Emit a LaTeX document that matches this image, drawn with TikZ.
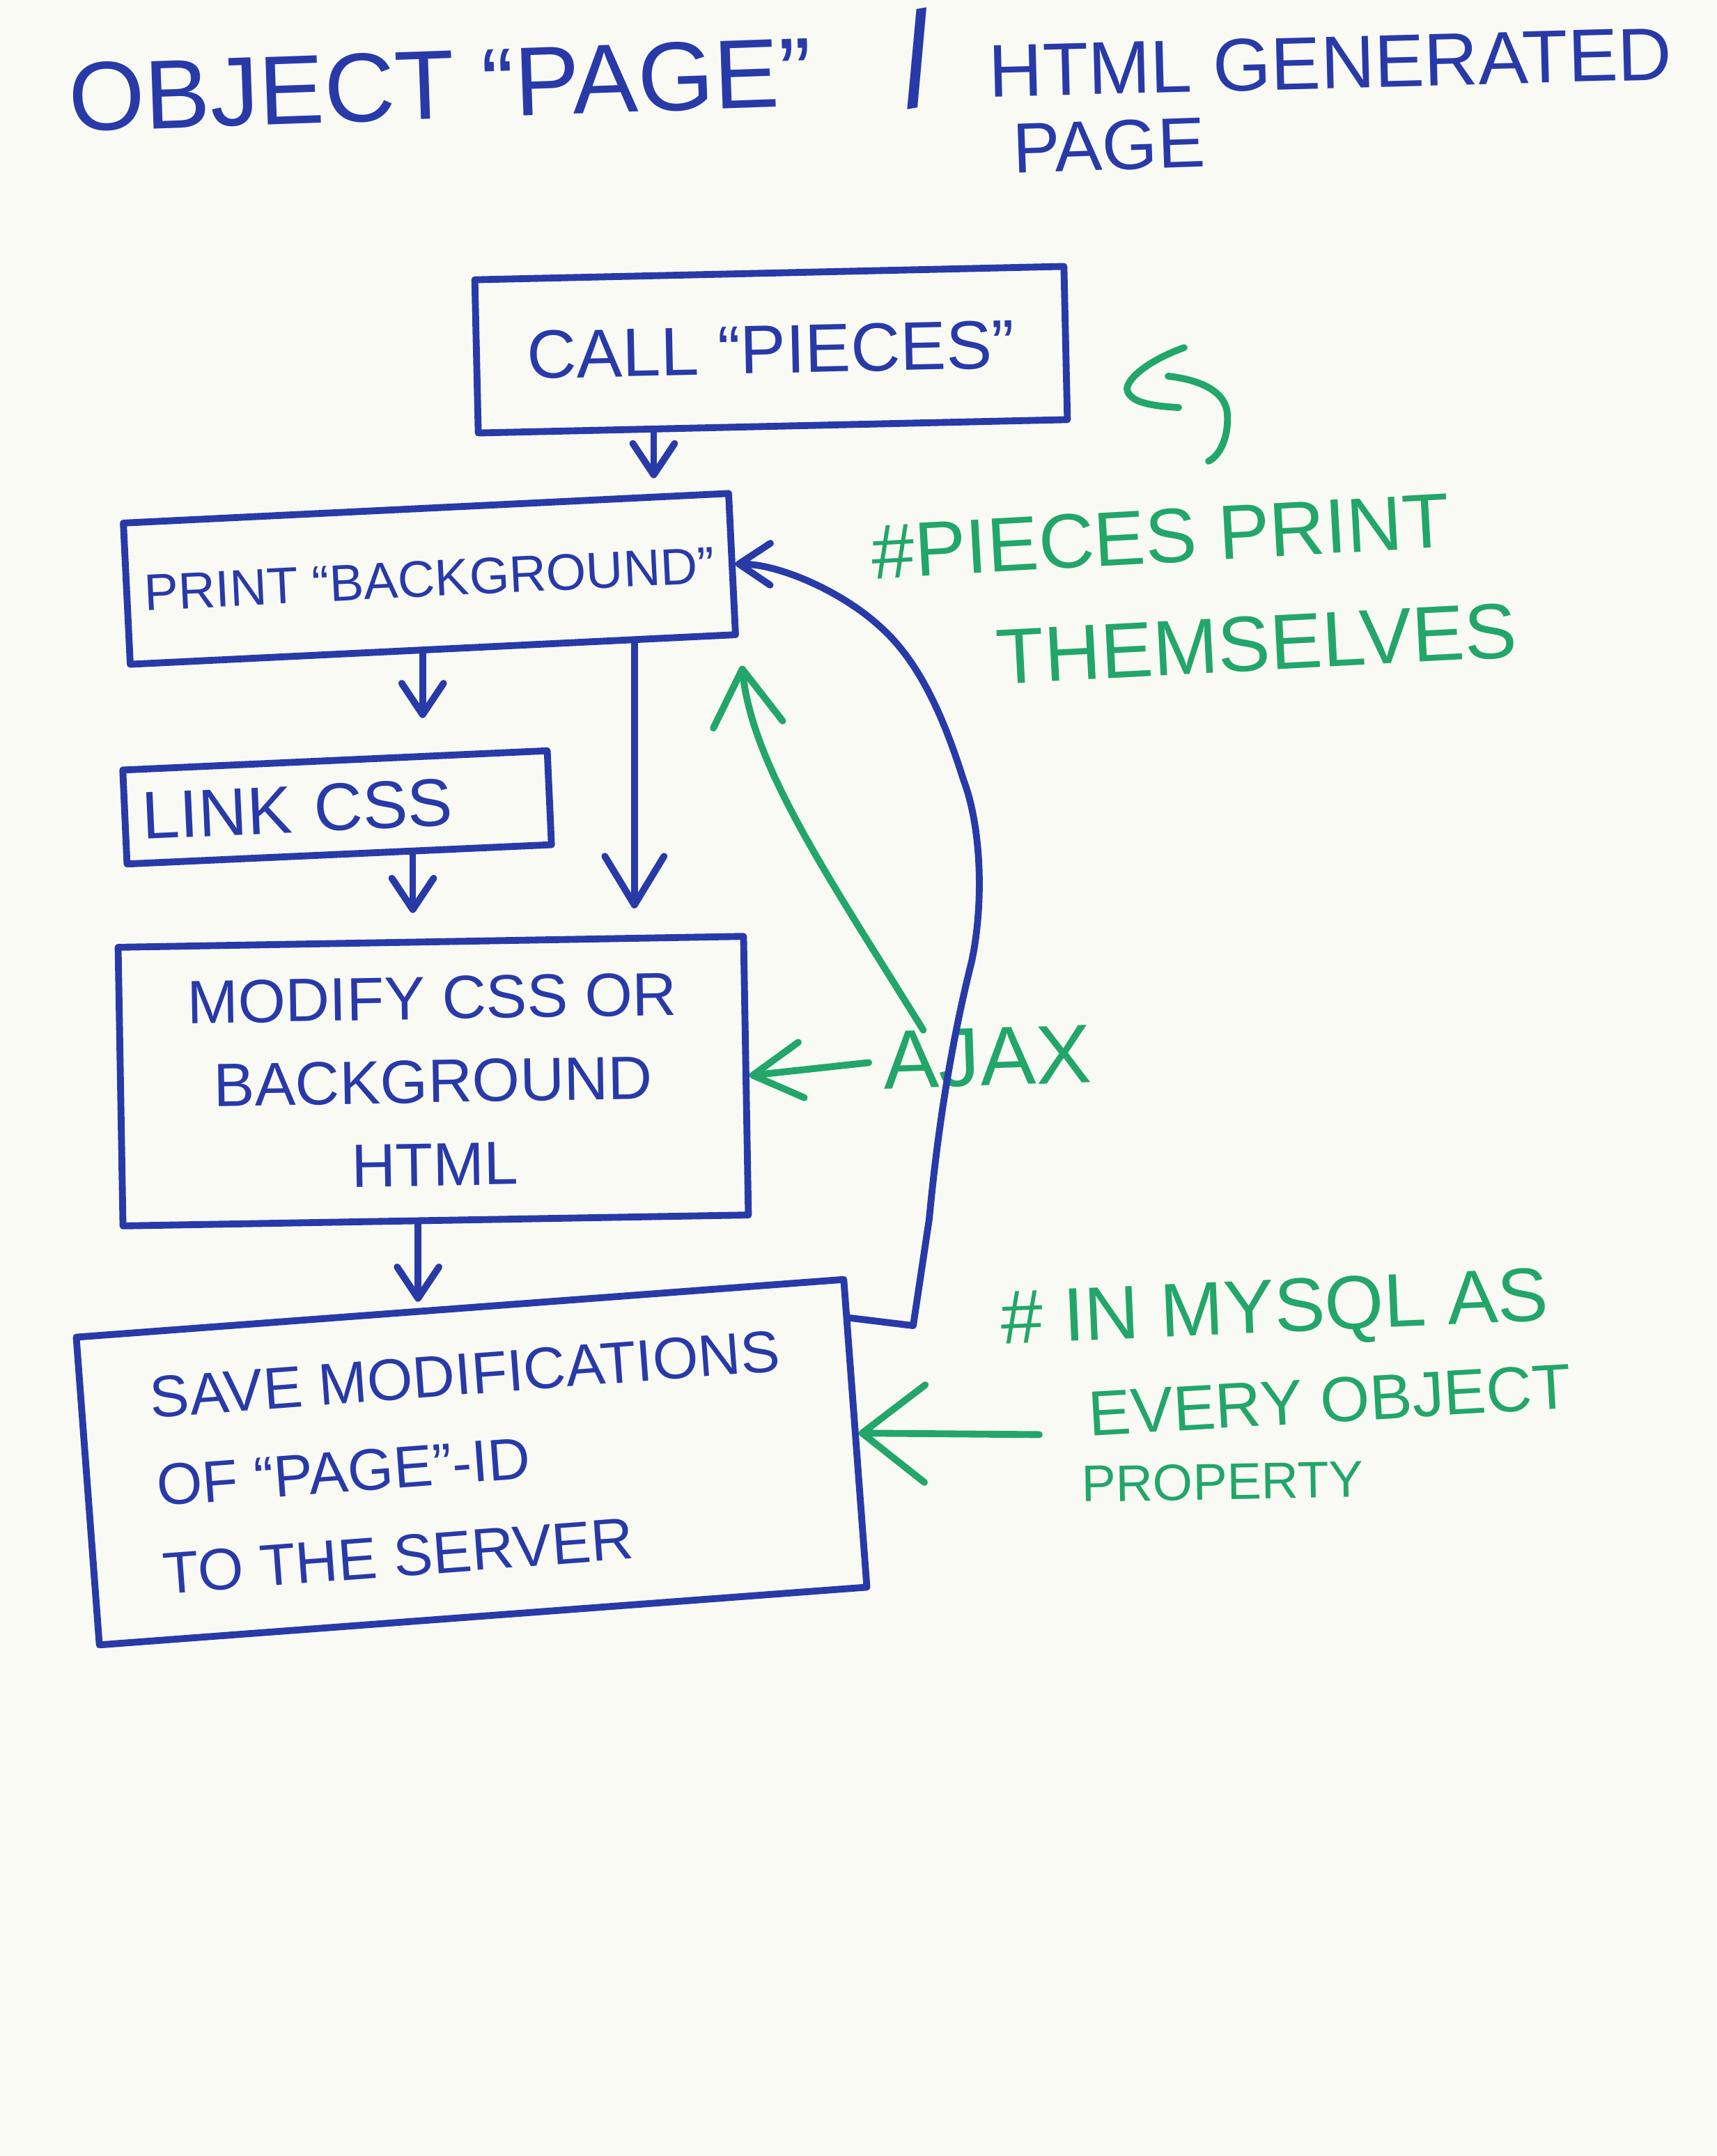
\documentclass[tikz,border=0pt]{standalone}
\usepackage{fontspec}
\setmainfont{Liberation Sans}
\usetikzlibrary{arrows.meta,calc}
\definecolor{mblue}{RGB}{40,58,168}
\definecolor{mgreen}{RGB}{34,166,106}
\definecolor{paper}{RGB}{250,250,244}
\tikzset{
  bbox/.style={draw=mblue, line width=2.8pt, line join=round, inner sep=0pt, text=mblue},
  btxt/.style={text=mblue, inner sep=1pt},
  gtxt/.style={text=mgreen, inner sep=0pt},
  bline/.style={draw=mblue, line width=2.8pt, line cap=round, line join=round},
  gline/.style={draw=mgreen, line width=2.8pt, line cap=round, line join=round},
  btipS/.style={-{Straight Barb[length=4.5mm,width=6mm,round]}},
  btipL/.style={-{Straight Barb[length=7mm,width=8.5mm,round]}},
  gtipM/.style={-{Straight Barb[length=7mm,width=8mm,round]}},
  gtipL/.style={-{Straight Barb[length=9mm,width=14mm,round]}},
  gtipU/.style={-{Straight Barb[length=8mm,width=10mm,round]}}
}
\begin{document}
\begin{tikzpicture}
\fill[paper] (0,0) rectangle (24.64,-30.95);
\useasboundingbox (0,0) rectangle (24.64,-30.95);

% title
\node[btxt, rotate=2, font=\fontsize{40}{48}\selectfont] (title1) at (6.32,-1.22) {OBJECT “PAGE”};
\node[btxt, rotate=10, font=\fontsize{54}{60}\selectfont] (slash) at (13.17,-0.84) {/};
\node[btxt, rotate=1.5, font=\fontsize{30.5}{36}\selectfont] (title2) at (19.10,-0.90) {HTML GENERATED};
\node[btxt, rotate=2, font=\fontsize{29}{35}\selectfont] (title3) at (15.92,-2.09) {PAGE};

% boxes
\node[bbox, rotate=1.3, minimum width=8.46cm, minimum height=2.2cm, font=\fontsize{28}{34}\selectfont] (call) at (11.07,-5.02) {CALL “PIECES”};
\node[bbox, rotate=2.8, minimum width=8.7cm, minimum height=2.03cm, font=\fontsize{21}{25}\selectfont] (print) at (6.165,-8.31) {PRINT “BACKGROUND”};
\node[bbox, rotate=2.6, minimum width=6.1cm, minimum height=1.35cm, text width=5.6cm, inner xsep=0.25cm, align=left, font=\fontsize{27.5}{33}\selectfont] (link) at (4.84,-11.59) {LINK CSS};
\node[bbox, rotate=1, minimum width=8.98cm, minimum height=4.0cm, align=center, font=\fontsize{25}{34}\selectfont] (modify) at (6.22,-15.52) {MODIFY CSS OR\\BACKGROUND\\HTML};
\node[bbox, rotate=4.3, minimum width=11.05cm, minimum height=4.43cm, align=left, font=\fontsize{24}{36}\selectfont] (save) at (6.77,-20.99) {SAVE MODIFICATIONS\\OF “PAGE”-ID\\TO THE SERVER};

% green notes
\node[gtxt, rotate=3.2, font=\fontsize{31.5}{38}\selectfont] (pieces1) at (16.66,-7.70) {\#PIECES PRINT};
\node[gtxt, rotate=3, font=\fontsize{32}{38}\selectfont] (pieces2) at (18.04,-9.24) {THEMSELVES};
\node[gtxt, rotate=2, font=\fontsize{34}{40}\selectfont] (ajax) at (14.17,-15.18) {AJAX};
\node[gtxt, rotate=2.5, font=\fontsize{31}{37}\selectfont] (mysql1) at (18.30,-18.85) {\# IN MYSQL AS};
\node[gtxt, rotate=3.3, font=\fontsize{26}{31}\selectfont] (mysql2) at (19.09,-20.10) {EVERY OBJECT};
\node[gtxt, rotate=1, font=\fontsize{21}{25}\selectfont] (mysql3) at (17.55,-21.27) {PROPERTY};

% blue flow connectors
\coordinate (c1s) at ($(call.south west)!0.3!(call.south east)$);
\coordinate (c1e) at ($(print.north west)!0.876!(print.north east)$);
\draw[bline, btipS, shorten >=0.22cm] (c1s) -- (c1s |- c1e);

\coordinate (c2s) at ($(print.south west)!0.483!(print.south east)$);
\coordinate (c2e) at ($(link.north west)!0.707!(link.north east)$);
\draw[bline, btipS, shorten >=0.5cm] (c2s) -- (c2s |- c2e);

\coordinate (c3s) at ($(link.south west)!0.67!(link.south east)$);
\coordinate (c3e) at ($(modify.north west)!0.469!(modify.north east)$);
\draw[bline, btipS, shorten >=0.37cm] (c3s) -- (c3s |- c3e);

\coordinate (c4s) at ($(print.south west)!0.829!(print.south east)$);
\coordinate (c4e) at ($(modify.north west)!0.819!(modify.north east)$);
\draw[bline, btipL, shorten >=0.38cm] (c4s) -- (c4s |- c4e);

\coordinate (c5s) at ($(modify.south west)!0.472!(modify.south east)$);
\coordinate (c5e) at ($(save.north west)!0.435!(save.north east)$);
\draw[bline, btipS, shorten >=0.1cm] (c5s) -- (c5s |- c5e);

% feedback loop from save back to print
\coordinate (ls) at ($(save.north east)!0.134!(save.south east)$);
\draw[bline, btipS] (ls) -- (13.11,-19.03) -- (13.34,-17.5)
  .. controls (13.5,-15.8) and (13.75,-14.6) .. (13.95,-13.8)
  .. controls (14.12,-13.0) and (14.1,-11.9) .. (13.83,-11.19)
  .. controls (13.55,-10.3) and (13.2,-9.5) .. (12.64,-9.0)
  .. controls (12.1,-8.5) and (11.2,-8.1) .. (print.east);

% green arrows
\coordinate (ajs) at ($(ajax.north west)!0.2!(ajax.north east)$);
\draw[gline, gtipU, shorten >=0.4cm] (ajs) .. controls (11.9,-12.6) and (10.8,-11.0) .. (print.south east);
\draw[gline, gtipM, shorten <=0.2cm] (ajax.west) -- (modify.east);
\draw[gline, gtipL, shorten <=0.7cm] ([yshift=-0.3cm]mysql2.west) -- (save.east);

% green curved hook near CALL box
\draw[gline] (16.77,-5.40) .. controls (17.2,-5.45) and (17.6,-5.6) .. (17.62,-5.95)
  .. controls (17.64,-6.3) and (17.5,-6.55) .. (17.35,-6.62);
\draw[gline] (17.00,-4.99) .. controls (16.55,-5.15) and (16.2,-5.4) .. (16.18,-5.58)
  .. controls (16.2,-5.78) and (16.55,-5.83) .. (16.92,-5.85);
\end{tikzpicture}
\end{document}
